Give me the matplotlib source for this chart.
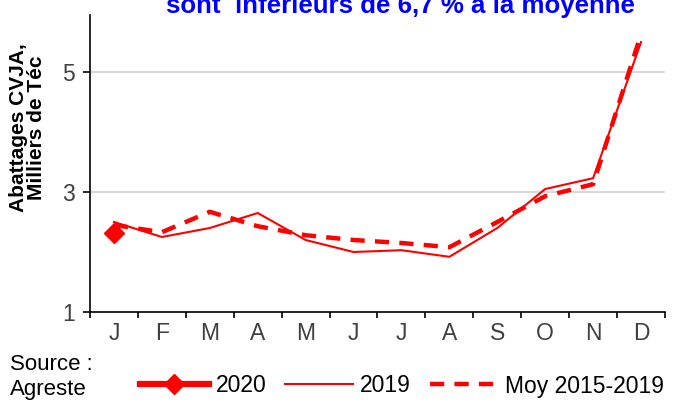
import matplotlib
matplotlib.use("Agg")
import matplotlib.pyplot as plt
import numpy as np

plt.rcParams['font.family'] = ['Liberation Sans', 'DejaVu Sans']

months = ["J", "F", "M", "A", "M", "J", "J", "A", "S", "O", "N", "D"]
serie_2020 = [2.32]
serie_2019 = [2.50, 2.25, 2.40, 2.65, 2.20, 2.00, 2.03, 1.92, 2.40, 3.05, 3.23, 5.50]
moy_2015_2019 = [2.45, 2.33, 2.67, 2.43, 2.28, 2.20, 2.15, 2.08, 2.50, 2.93, 3.13, 5.63]
yticks = [1, 3, 5]

red = "#ff0000"

fig = plt.figure(figsize=(6.73, 4.01), dpi=100)
ax = fig.add_axes([90/673, 1 - 312/401, 575/673, 297/401])

x = np.arange(len(months))
ax.plot(x, serie_2019, color=red, lw=1.5, label="2019", zorder=3)
ax.plot(x, moy_2015_2019, color=red, lw=3.2, ls=(0, (3.2, 2.3)), label="Moy 2015-2019", zorder=3)
ax.plot(x[:len(serie_2020)], serie_2020, color=red, lw=4.5, marker="D", markersize=10,
        label="2020", zorder=4)

ax.set_xlim(-0.5, len(months) - 0.5)
ax.set_ylim(1, 5.95)
ax.set_yticks(yticks)
ax.set_yticklabels([str(v) for v in yticks], fontsize=16.5, color="#404040")
ax.set_xticks(x)
ax.set_xticklabels(months, fontsize=16.5, color="#404040")
ax.set_xticks(np.arange(-0.5, len(months)), minor=True)
ax.tick_params(axis="x", which="major", length=0, pad=7)
ax.tick_params(axis="x", which="minor", length=4, width=1.2, direction="out")
ax.tick_params(axis="y", length=5, width=1.2, direction="out", pad=6)

for s in ["top", "right"]:
    ax.spines[s].set_visible(False)
for s in ["left", "bottom"]:
    ax.spines[s].set_linewidth(1.2)

for v in yticks[1:]:
    ax.axhline(v, color="#d9d9d9", lw=1.5, zorder=1)

ax.set_ylabel("Abattages CVJA,\nMilliers de Téc", fontsize=15, fontweight="bold",
              linespacing=0.95)
ax.yaxis.set_label_coords(-44/575, (312 - 128)/297)

fig.text(0.595, 1 - 12.5/401, "sont  inférieurs de 6,7 % à la moyenne", color="#0000ff",
         fontsize=18.6, fontweight="bold", ha="center", va="baseline")

fig.text(10/673, 1 - 364/401, "Source :", fontsize=16, va="center")
fig.text(10/673, 1 - 389/401, "Agreste", fontsize=16, va="center")

h, l = ax.get_legend_handles_labels()
order = [2, 0, 1]
fig.legend([h[i] for i in order], [l[i] for i in order], loc="center left",
           bbox_to_anchor=(140/673, 1 - 386/401), ncol=3, frameon=False, fontsize=16.5,
           handlelength=3.0, handletextpad=0.3, columnspacing=0.8, borderaxespad=0,
           borderpad=0)

fig.savefig("out.png", dpi=100)
